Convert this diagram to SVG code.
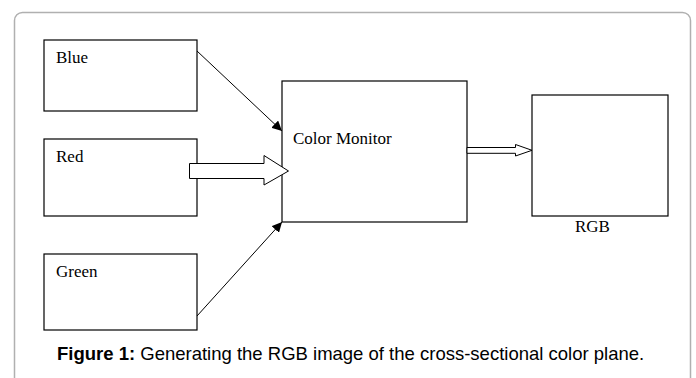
<svg xmlns="http://www.w3.org/2000/svg" width="696" height="378" viewBox="0 0 696 378">
<style>
.box{fill:#fff;stroke:#000;stroke-width:1.2}
.lbl{font-family:"Liberation Serif","Times New Roman",serif;font-size:17px;fill:#000}
.cap{font-family:"Liberation Sans",Arial,sans-serif;font-size:18.5px;fill:#000}
.ln{stroke:#000;stroke-width:1;fill:none}
.blk{fill:#fff;stroke:#000;stroke-width:1}
</style>
<defs>
<marker id="ah" viewBox="0 0 10 10" refX="10" refY="5" markerWidth="10" markerHeight="10" markerUnits="userSpaceOnUse" orient="auto">
<path d="M0,0 L10,5 L0,10 z" fill="#000"/>
</marker>
</defs>
<rect width="696" height="378" fill="#fff"/>
<rect id="frame" x="14.5" y="12.5" width="676" height="380" rx="8" ry="8" fill="#fff" stroke="#b0b0b0" stroke-width="1.5"/>
<g id="blue"><rect class="box" x="44" y="40" width="153" height="71"/><text class="lbl" x="56" y="63">Blue</text></g>
<g id="red"><rect class="box" x="44" y="139" width="153" height="77"/><text class="lbl" x="56" y="162">Red</text></g>
<g id="green"><rect class="box" x="44" y="254" width="153" height="76"/><text class="lbl" x="56" y="277">Green</text></g>
<g id="monitor"><rect class="box" x="282" y="81" width="185" height="141"/><text class="lbl" x="293" y="144">Color Monitor</text></g>
<g id="rgb"><rect class="box" x="532" y="95" width="136" height="121"/><text class="lbl" x="575" y="232">RGB</text></g>
<g id="connectors">
<line class="ln" x1="197" y1="51" x2="282" y2="131" marker-end="url(#ah)"/>
<line class="ln" x1="197" y1="316" x2="282" y2="222" marker-end="url(#ah)"/>
<path class="blk" d="M189.5,163.5 L264,163.5 L264,155.5 L288.5,171 L264,185 L264,178.5 L189.5,178.5 z"/>
<path class="blk" d="M467,147.5 L515.5,147.5 L515.5,144.5 L532,150.3 L515.5,156 L515.5,153.3 L467,153.3 z"/>
</g>
<text class="cap" x="57" y="360"><tspan font-weight="bold">Figure 1:</tspan> Generating the RGB image of the cross-sectional color plane.</text>
</svg>
